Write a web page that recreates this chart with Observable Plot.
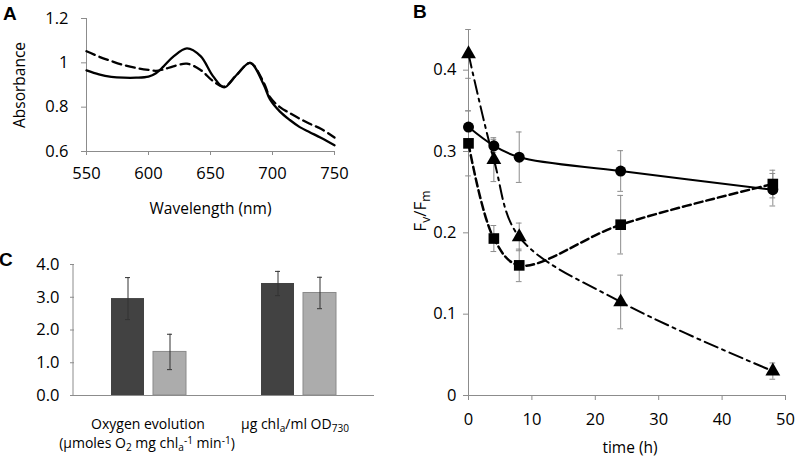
<!DOCTYPE html>
<html><head><meta charset="utf-8">
<script src="https://cdn.jsdelivr.net/npm/d3@7"></script>
<script src="https://cdn.jsdelivr.net/npm/@observablehq/plot@0.6"></script>
<style>
body{margin:0;background:#fff;}
#wrap{position:relative;width:795px;height:458px;overflow:hidden;font-family:"Open Sans",sans-serif;font-size:14px;color:#000;background:#fff;}
#wrap svg{position:absolute;background:transparent;}
.lbl{position:absolute;white-space:nowrap;transform:translate(-50%,-50%);line-height:16px;text-align:center;}
.rot{transform:translate(-50%,-50%) rotate(-90deg);font-size:17px;}
.letter{position:absolute;font-family:"Liberation Sans",Arial,sans-serif;font-weight:bold;font-size:19px;line-height:19px;}
sub{font-size:72%;line-height:0;vertical-align:-0.3em;}
sup{font-size:72%;line-height:0;vertical-align:0.35em;}
</style></head><body><div id="wrap"></div>
<script>
// ---------- Panel A data ----------
const wlA = [550,560,570,580,590,600,606,612,620,631,642,652,661,671,682,693,698,706,714,722,730,739,750];
const solidA = [0.966,0.948,0.937,0.933,0.933,0.938,0.953,0.983,1.028,1.065,1.03,0.94,0.889,0.945,1.0,0.9,0.835,0.78,0.742,0.71,0.687,0.662,0.628];
const dashedA = [1.052,1.028,1.008,0.99,0.977,0.968,0.964,0.97,0.984,0.996,0.968,0.918,0.893,0.945,1.0,0.91,0.845,0.8,0.773,0.748,0.725,0.703,0.663];
const xTicksA = [550,600,650,700,750];
const yTicksA = [0.6,0.8,1,1.2];

// ---------- Panel B data ----------
const timeB = [0,4,8,24,48];
const circleV = [0.33,0.307,0.293,0.276,0.253];
const circleE = [0.02,0.008,0.031,0.025,0.02];
const squareV = [0.31,0.193,0.16,0.21,0.26];
const squareE = [0.04,0.016,0.02,0.036,0.017];
const triV = [0.42,0.29,0.195,0.115,0.03];
const triE = [0.03,0.027,0.017,0.033,0.01];
const xTicksB = [0,10,20,30,40,50];
const yTicksB = [0,0.1,0.2,0.3,0.4];

// ---------- Panel C data ----------
const groupsC = ["Oxygen evolution","chla per ml OD730"];
const seriesC = ["dark","light"];
const darkC = [2.96,3.42];
const darkErrC = [0.64,0.37];
const lightC = [1.33,3.13];
const lightErrC = [0.54,0.48];
const yTicksC = [0,1,2,3,4];

const wrap = document.getElementById("wrap");
const fontStyle = {fontFamily:"'Open Sans', sans-serif", fontSize:"16.5px", color:"#000", background:"transparent", overflow:"visible"};
function place(svg, left, top){ svg.style.left = left+"px"; svg.style.top = top+"px"; wrap.appendChild(svg);
  svg.querySelectorAll('g[aria-label*="axis"] path, g[aria-label*="axis"] line').forEach(el=>el.setAttribute("stroke","#8c8c8c"));
}
function html(cls, left, top, inner){ const d=document.createElement("div"); d.className=cls; d.style.left=left+"px"; d.style.top=top+"px"; d.innerHTML=inner; wrap.appendChild(d); return d; }

// ---------- Panel A ----------
const rowsA = wlA.map((w,i)=>({wl:w, solid:solidA[i], dashed:dashedA[i]}));
const chartA = Plot.plot({
  width:400, height:230, marginLeft:86, marginRight:66, marginTop:18, marginBottom:79,
  style: fontStyle,
  x:{domain:[550,750], ticks:xTicksA, tickSize:4, tickPadding:12, label:null},
  y:{domain:[0.6,1.2], ticks:yTicksA, tickFormat:d=>String(d), tickSize:5, tickPadding:13, label:null},
  marks:[
    Plot.ruleX([550],{stroke:"#8c8c8c"}),
    Plot.ruleY([0.6],{stroke:"#8c8c8c"}),
    Plot.line(rowsA,{x:"wl", y:"dashed", stroke:"#000", strokeWidth:2.3, strokeDasharray:"9,5", curve:"catmull-rom"}),
    Plot.line(rowsA,{x:"wl", y:"solid", stroke:"#000", strokeWidth:2.3, curve:"catmull-rom"}),
    Plot.text(["Absorbance"],{text:d=>d, frameAnchor:"left", textAnchor:"middle", lineAnchor:"middle", dx:-66, rotate:-90, fill:"#000", fontSize:15.5}),
    Plot.text(["Wavelength (nm)"],{text:d=>d, frameAnchor:"bottom", textAnchor:"middle", lineAnchor:"middle", dy:58, fill:"#000", fontSize:15.5})
  ]
});
place(chartA,0,0);

// ---------- Panel B ----------
const rowsB = [];
timeB.forEach((t,i)=>{
  rowsB.push({series:"circle", t, v:circleV[i], e:circleE[i]});
  rowsB.push({series:"square", t, v:squareV[i], e:squareE[i]});
  rowsB.push({series:"triangle", t, v:triV[i], e:triE[i]});
});
const capB = 0.45;
const sel = s => rowsB.filter(d=>d.series===s);
const chartB = Plot.plot({
  width:395, height:458, marginLeft:68, marginRight:10, marginTop:29, marginBottom:63,
  style: fontStyle,
  x:{domain:[0,50], ticks:xTicksB, tickSize:5, tickPadding:13, label:null},
  y:{domain:[0,0.45], ticks:yTicksB, tickFormat:d=>String(d), tickSize:5, tickPadding:7, label:null},
  marks:[
    Plot.ruleX(rowsB,{x:"t", y1:d=>d.v-d.e, y2:d=>d.v+d.e, stroke:"#8c8c8c", strokeWidth:1}),
    Plot.ruleY(rowsB,{y:d=>d.v+d.e, x1:d=>d.t-capB, x2:d=>d.t+capB, stroke:"#8c8c8c", strokeWidth:1}),
    Plot.ruleY(rowsB,{y:d=>d.v-d.e, x1:d=>d.t-capB, x2:d=>d.t+capB, stroke:"#8c8c8c", strokeWidth:1}),
    Plot.ruleX([0],{stroke:"#8c8c8c"}),
    Plot.ruleY([0],{stroke:"#8c8c8c"}),
    Plot.line(sel("triangle"),{x:"t", y:"v", stroke:"#000", strokeWidth:2, strokeDasharray:"14,5,3,5", curve:"catmull-rom"}),
    Plot.line(sel("square"),{x:"t", y:"v", stroke:"#000", strokeWidth:2.5, strokeDasharray:"8,4", curve:"catmull-rom"}),
    Plot.line(sel("circle"),{x:"t", y:"v", stroke:"#000", strokeWidth:2, curve:"catmull-rom"}),
    Plot.dot(sel("circle"),{x:"t", y:"v", symbol:"circle", fill:"#000", r:5.5}),
    Plot.dot(sel("square"),{x:"t", y:"v", symbol:"square", fill:"#000", r:6}),
    Plot.dot(sel("triangle"),{x:"t", y:"v", symbol:"triangle", fill:"#000", r:5.5}),
    Plot.text(["time (h)"],{text:d=>d, frameAnchor:"bottom", textAnchor:"middle", lineAnchor:"middle", dy:53, dx:3, fill:"#000", fontSize:15.5})
  ]
});
place(chartB,400,0);

// ---------- Panel C ----------
const rowsC = groupsC.flatMap((g,i)=>[
  {group:g, series:"dark", v:darkC[i], e:darkErrC[i]},
  {group:g, series:"light", v:lightC[i], e:lightErrC[i]}
]);
const chartC = Plot.plot({
  width:400, height:228, marginLeft:73, marginRight:26, marginTop:34, marginBottom:63,
  style: fontStyle,
  fx:{domain:groupsC, padding:0, axis:null, label:null},
  x:{domain:seriesC, paddingInner:0.209, paddingOuter:0.855, axis:null},
  y:{domain:[0,4], ticks:yTicksC, tickFormat:d3.format(".1f"), tickSize:4, tickPadding:11, label:null},
  marks:[
    Plot.barY(rowsC.filter(d=>d.series==="dark"),{fx:"group", x:"series", y:"v", fill:"#424242"}),
    Plot.barY(rowsC.filter(d=>d.series==="light"),{fx:"group", x:"series", y:"v", fill:"#acacac", stroke:"#8a8a8a", strokeWidth:1}),
    Plot.ruleX(rowsC,{fx:"group", x:"series", y1:d=>d.v-d.e, y2:d=>d.v+d.e, stroke:"#333", strokeWidth:1}),
    Plot.tickY(rowsC,{fx:"group", x:"series", y:d=>d.v+d.e, insetLeft:14, insetRight:14, stroke:"#333", strokeWidth:1}),
    Plot.tickY(rowsC,{fx:"group", x:"series", y:d=>d.v-d.e, insetLeft:14, insetRight:14, stroke:"#333", strokeWidth:1}),
    Plot.ruleY([0],{stroke:"#8c8c8c"})
  ]
});
place(chartC,0,230);
// y axis line for panel C from the plot's own scales
{
  const ys = chartC.scale("y"), fxs = chartC.scale("fx");
  const x0 = fxs.range[0];
  d3.select(chartC).append("line")
    .attr("x1",x0).attr("x2",x0)
    .attr("y1",ys.apply(ys.domain[0])).attr("y2",ys.apply(ys.domain[1]))
    .attr("stroke","#8c8c8c");
}

// ---------- HTML labels with sub/superscripts ----------
html("lbl rot", 420, 211, "F<sub>v</sub>/F<sub>m</sub>");
html("lbl", 148, 424, "Oxygen evolution");
html("lbl", 147, 443, "(µmoles O<sub>2</sub> mg chl<sub>a</sub><sup>-1</sup> min<sup>-1</sup>)");
html("lbl", 295, 424, "µg chl<sub>a</sub>/ml OD<sub>730</sub>");

// panel letters
html("letter", 3, 4, "A");
html("letter", 413, 2, "B");
html("letter", -1, 250, "C");
</script>
</body></html>
